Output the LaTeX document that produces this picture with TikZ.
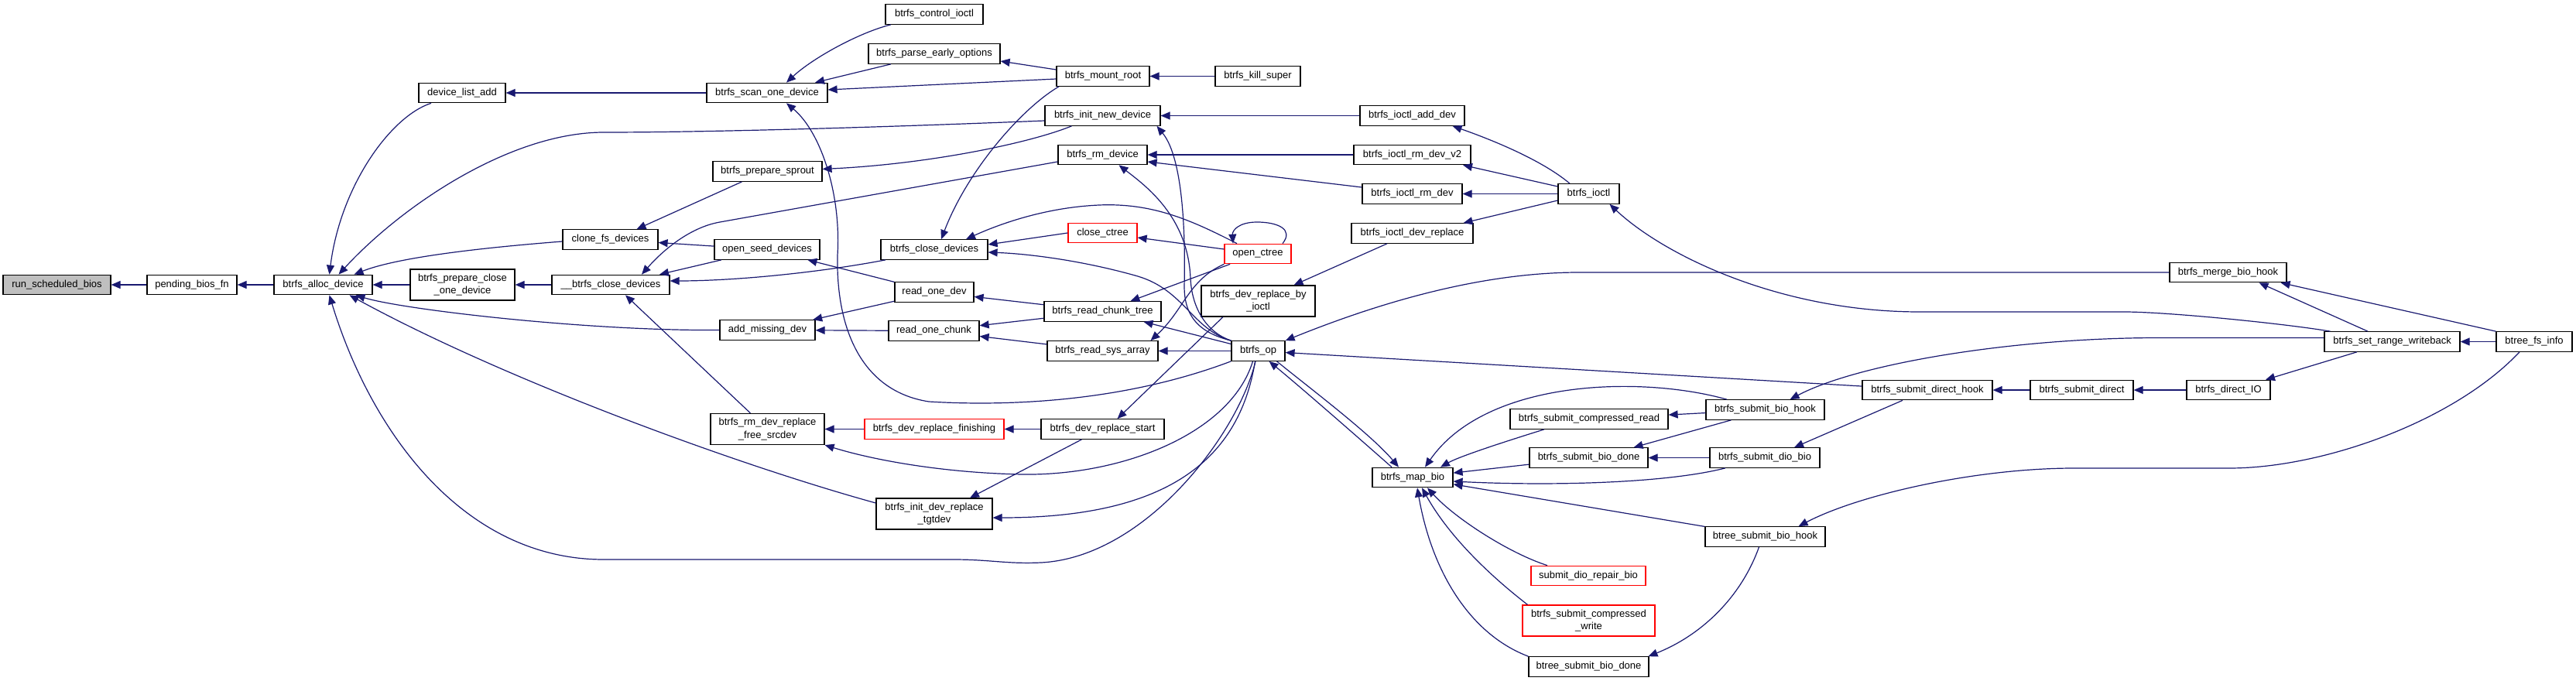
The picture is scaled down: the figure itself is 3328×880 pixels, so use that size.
\documentclass[tikz,border=0pt]{standalone}
\usepackage{fontspec}
\setmainfont{Liberation Sans}
\usetikzlibrary{arrows.meta}
\definecolor{edgec}{HTML}{191970}
\definecolor{grayfill}{HTML}{BFBFBF}
\begin{document}
\begin{tikzpicture}[x=1pt,y=-1pt,
  box/.style={draw=black, line width=1.2pt, fill=white, minimum height=25.5pt, inner sep=0pt, font=\fontsize{13}{16.5}\selectfont, align=center},
  redbox/.style={box, draw=red},
  tall/.style={minimum height=40pt},
  cedge/.style={draw=edgec, line width=1.2pt, -{Triangle[length=12pt,width=10pt]}},
  ]
\useasboundingbox (0,0) rectangle (3328,880);
% nodes
\node[box, fill=grayfill, minimum width=139pt] (rsb) at (73.5,368) {run\_scheduled\_bios};
\node[box, minimum width=116pt] (pbf) at (248,368) {pending\_bios\_fn};
\node[box, minimum width=127pt] (alloc) at (417.5,368) {btrfs\_alloc\_device};
\node[box, tall, minimum width=135pt] (prepclose) at (597.5,368) {btrfs\_prepare\_close\\\_one\_device};
\node[box, minimum width=152pt] (uclose) at (789,368) {\_\_btrfs\_close\_devices};
\node[box, minimum width=123pt] (clone) at (788.5,309.5) {clone\_fs\_devices};
\node[box, minimum width=112pt] (dla) at (597,120) {device\_list\_add};
\node[box, minimum width=126pt] (ctlioctl) at (1207,18.5) {btrfs\_control\_ioctl};
\node[box, minimum width=170pt] (parse) at (1207,69.5) {btrfs\_parse\_early\_options};
\node[box, minimum width=156pt] (scan) at (991,120) {btrfs\_scan\_one\_device};
\node[box, minimum width=120pt] (mount) at (1425,98.5) {btrfs\_mount\_root};
\node[box, minimum width=110pt] (kill) at (1625,98.5) {btrfs\_kill\_super};
\node[box, minimum width=149pt] (initnew) at (1424.5,149.5) {btrfs\_init\_new\_device};
\node[box, minimum width=115pt] (rmdev) at (1424.5,200) {btrfs\_rm\_device};
\node[box, minimum width=141pt] (sprout) at (991.5,221.5) {btrfs\_prepare\_sprout};
\node[box, minimum width=136pt] (openseed) at (991,322.5) {open\_seed\_devices};
\node[box, minimum width=138pt] (closedev) at (1207,322.5) {btrfs\_close\_devices};
\node[redbox, minimum width=89pt] (closectree) at (1424.5,301) {close\_ctree};
\node[redbox, minimum width=86pt] (openctree) at (1625,328) {open\_ctree};
\node[box, minimum width=102pt] (readdev) at (1207,377.5) {read\_one\_dev};
\node[box, minimum width=151pt] (chunktree) at (1424.5,402.5) {btrfs\_read\_chunk\_tree};
\node[box, tall, minimum width=147pt] (byioctl) at (1625.5,389) {btrfs\_dev\_replace\_by\\\_ioctl};
\node[box, minimum width=123pt] (addmiss) at (991.5,426.5) {add\_missing\_dev};
\node[box, minimum width=117pt] (readchunk) at (1206.5,427.5) {read\_one\_chunk};
\node[box, minimum width=143pt] (sysarray) at (1424.5,453.5) {btrfs\_read\_sys\_array};
\node[box, minimum width=69pt] (op) at (1625.5,453.5) {btrfs\_op};
\node[box, tall, minimum width=147pt] (rmreplace) at (991.5,554.5) {btrfs\_rm\_dev\_replace\\\_free\_srcdev};
\node[redbox, minimum width=180pt] (finishing) at (1207,554.5) {btrfs\_dev\_replace\_finishing};
\node[box, minimum width=159pt] (rstart) at (1424.5,554.5) {btrfs\_dev\_replace\_start};
\node[box, tall, minimum width=150pt] (tgtdev) at (1207,664) {btrfs\_init\_dev\_replace\\\_tgtdev};
\node[box, minimum width=135pt] (addioctl) at (1824.5,149.5) {btrfs\_ioctl\_add\_dev};
\node[box, minimum width=151pt] (rmv2) at (1824.5,200) {btrfs\_ioctl\_rm\_dev\_v2};
\node[box, minimum width=129pt] (rmioctl) at (1824.5,250.5) {btrfs\_ioctl\_rm\_dev};
\node[box, minimum width=79pt] (ioctl) at (2052.5,250.5) {btrfs\_ioctl};
\node[box, minimum width=157pt] (replioctl) at (1824.5,301.5) {btrfs\_ioctl\_dev\_replace};
\node[box, minimum width=104pt] (mapbio) at (1825,617) {btrfs\_map\_bio};
\node[box, minimum width=204pt] (compread) at (2053,541.5) {btrfs\_submit\_compressed\_read};
\node[box, minimum width=153pt] (biohook) at (2280.5,529.5) {btrfs\_submit\_bio\_hook};
\node[box, minimum width=153pt] (biodone) at (2052.5,591.5) {btrfs\_submit\_bio\_done};
\node[box, minimum width=142pt] (diobio) at (2280,591.5) {btrfs\_submit\_dio\_bio};
\node[box, minimum width=168pt] (directhook) at (2490,504) {btrfs\_submit\_direct\_hook};
\node[box, minimum width=155pt] (btreehook) at (2280.5,693.5) {btree\_submit\_bio\_hook};
\node[redbox, minimum width=148pt] (repair) at (2052,744) {submit\_dio\_repair\_bio};
\node[redbox, tall, minimum width=171pt] (compwrite) at (2052.5,802) {btrfs\_submit\_compressed\\\_write};
\node[box, minimum width=155pt] (btreedone) at (2052.5,861.5) {btree\_submit\_bio\_done};
\node[box, minimum width=151pt] (merge) at (2878.5,352) {btrfs\_merge\_bio\_hook};
\node[box, minimum width=175pt] (setrange) at (3090.5,441.5) {btrfs\_set\_range\_writeback};
\node[box, minimum width=98pt] (fsinfo) at (3274,441.5) {btree\_fs\_info};
\node[box, minimum width=133pt] (subdirect) at (2689.5,504) {btrfs\_submit\_direct};
\node[box, minimum width=108pt] (directio) at (2879,504) {btrfs\_direct\_IO};
% edges
\draw[cedge] (pbf) -- (rsb);
\draw[cedge] (alloc) -- (pbf);
\draw[cedge] ([xshift=-40pt]dla.south) .. controls (505,150) and (440,240) .. ([xshift=8pt]alloc.north);
\draw[cedge] ([yshift=-6.5pt]initnew.west) .. controls (1100,166) and (900,171) .. (780,171) .. controls (660,171) and (520,265) .. ([xshift=20pt]alloc.north);
\draw[cedge] ([yshift=-2.5pt]clone.west) .. controls (650,318) and (520,330) .. ([xshift=40pt]alloc.north);
\draw[cedge] (prepclose) -- (alloc);
\draw[cedge] (uclose) -- (prepclose);
\draw[cedge] (addmiss.west) .. controls (760,428) and (520,400) .. ([xshift=42pt]alloc.south);
\draw[cedge] ([yshift=14pt]tgtdev.west) .. controls (950,600) and (650,490) .. ([xshift=34pt]alloc.south);
\draw[cedge] ([xshift=-3.5pt]op.south) .. controls (1600,560) and (1480,720) .. (1345,727) .. controls (1300,729) and (1280,723) .. (1231,723) -- (780,723) .. controls (600,723) and (480,560) .. ([xshift=8pt]alloc.south);
\draw[cedge] (scan) -- (dla);
\draw[cedge] ([xshift=-56pt]ctlioctl.south) .. controls (1110,42) and (1050,75) .. ([xshift=25pt]scan.north);
\draw[cedge] ([xshift=-56pt]parse.south) -- ([xshift=62pt]scan.north);
\draw[cedge] ([yshift=-3.5pt]mount.west) -- ([yshift=4pt]scan.east);
\draw[cedge] ([yshift=8.5pt]mount.west) -- ([yshift=-9.5pt]parse.east);
\draw[cedge] (kill) -- (mount);
\draw[cedge] ([xshift=-57pt]mount.south) .. controls (1320,140) and (1250,220) .. ([xshift=9pt]closedev.north);
\draw[cedge] (op.south west) .. controls (1450,520) and (1300,525) .. (1200,519) .. controls (1110,505) and (1080,420) .. (1082,330) .. controls (1087,250) and (1060,170) .. ([xshift=25pt]scan.south);
\draw[cedge] (addioctl) -- (initnew);
\draw[cedge] (op.north west) .. controls (1550,430) and (1530,410) .. (1530,370) .. controls (1532,280) and (1525,200) .. ([xshift=70pt]initnew.south);
\draw[cedge] (rmv2) -- (rmdev);
\draw[cedge] ([yshift=8.5pt]rmioctl.west) -- ([yshift=-9pt]rmdev.east);
\draw[cedge] (op.north west) .. controls (1560,430) and (1540,400) .. (1538,360) .. controls (1535,280) and (1480,240) .. ([xshift=21pt]rmdev.south);
\draw[cedge] ([xshift=-24.5pt]ioctl.north) .. controls (1990,205) and (1920,178) .. ([xshift=52pt]addioctl.south);
\draw[cedge] ([yshift=9.5pt]ioctl.west) -- ([xshift=65.5pt]rmv2.south);
\draw[cedge] (ioctl) -- (rmioctl);
\draw[cedge] ([yshift=-8.5pt]ioctl.west) -- ([xshift=66pt]replioctl.north);
\draw[cedge] (closectree.west) -- ([yshift=6.5pt]closedev.east);
\draw[cedge] ([xshift=-27pt]openctree.north) .. controls (1540,285) and (1490,262) .. (1420,265) .. controls (1350,268) and (1290,290) .. ([xshift=41pt]closedev.north);
\draw[cedge] (op.north west) .. controls (1540,425) and (1530,375) .. (1470,357) .. controls (1400,337) and (1330,328) .. ([yshift=-3.5pt]closedev.east);
\draw[cedge] ([yshift=6pt]openctree.west) -- ([yshift=-6pt]closectree.east);
\draw[cedge] ([xshift=32pt]openctree.north) .. controls (1672,296) and (1650,287) .. (1624,287) .. controls (1600,287) and (1592,298) .. ([xshift=-32pt]openctree.north);
\draw[cedge] (chunktree) -- (readdev);
\draw[cedge] (chunktree) -- (readchunk);
\draw[cedge] (openctree) -- (chunktree);
\draw[cedge] (openctree.south west) .. controls (1535,362) and (1530,400) .. ([xshift=62pt]sysarray.north);
\draw[cedge] ([yshift=9pt]op.west) -- ([xshift=53pt]chunktree.south);
\draw[cedge] (op) -- (sysarray);
\draw[cedge] (sysarray) -- (readchunk);
\draw[cedge] (readdev) -- (openseed);
\draw[cedge] (readdev) -- (addmiss);
\draw[cedge] (readchunk) -- (addmiss);
\draw[cedge] ([xshift=-45.5pt]byioctl.south) -- ([xshift=19pt]rstart.north);
\draw[cedge] ([xshift=-32.5pt]replioctl.south) -- ([xshift=46pt]byioctl.north);
\draw[cedge] (merge.west) -- (2040,352) .. controls (1900,352) and (1760,400) .. (op.north east);
\draw[cedge] (directhook) -- (op);
\draw[cedge] ([yshift=5pt]setrange.west) -- (2790,436.5) .. controls (2600,436.5) and (2400,470) .. ([xshift=32pt]biohook.north);
\draw[cedge] ([xshift=-80pt]setrange.north) .. controls (2950,418) and (2800,403) .. (2744,403) -- (2480,403) .. controls (2300,403) and (2150,330) .. ([xshift=27pt]ioctl.south);
\draw[cedge] ([xshift=-31.5pt]setrange.north) -- ([xshift=40pt]merge.south);
\draw[cedge] (fsinfo.north west) -- ([xshift=68pt]merge.south);
\draw[cedge] (fsinfo) -- (setrange);
\draw[cedge] ([xshift=-45.5pt]setrange.south) -- ([xshift=48pt]directio.north);
\draw[cedge] (directio) -- (subdirect);
\draw[cedge] (subdirect) -- (directhook);
\draw[cedge] ([xshift=-32pt]directhook.south) -- ([xshift=38pt]diobio.north);
\draw[cedge] ([xshift=-19pt]fsinfo.south) .. controls (3170,545) and (3000,605) .. (2880,605) -- (2680,605) .. controls (2550,605) and (2400,640) .. ([xshift=43pt]btreehook.north);
\draw[cedge] (biohook) -- (compread);
\draw[cedge] ([xshift=-44pt]biohook.south) -- ([xshift=58pt]biodone.north);
\draw[cedge] ([xshift=-49.5pt]biohook.north) .. controls (2120,485) and (1920,490) .. ([xshift=16pt]mapbio.north);
\draw[cedge] ([xshift=-58pt]compread.south) .. controls (1940,572) and (1885,590) .. ([xshift=36pt]mapbio.north);
\draw[cedge] (biodone) -- (mapbio);
\draw[cedge] (diobio) -- (biodone);
\draw[cedge] ([xshift=-51pt]diobio.south) .. controls (2150,625) and (2000,628) .. ([yshift=-5pt]mapbio.east);
\draw[cedge] (btreehook) -- (mapbio);
\draw[cedge] ([xshift=-53pt]repair.north) .. controls (1950,715) and (1880,670) .. ([xshift=19pt]mapbio.south);
\draw[cedge] ([xshift=-79pt]compwrite.north) .. controls (1920,740) and (1870,690) .. ([xshift=12pt]mapbio.south);
\draw[cedge] ([xshift=-78pt]btreedone.north) .. controls (1900,820) and (1850,740) .. ([xshift=6pt]mapbio.south);
\draw[cedge] ([xshift=-8pt]btreehook.south) .. controls (2250,770) and (2200,820) .. ([xshift=77pt]btreedone.north);
\draw[cedge] ([xshift=24pt]op.south) .. controls (1690,500) and (1770,560) .. ([xshift=-18pt]mapbio.north);
\draw[cedge] ([xshift=-27pt]mapbio.north) .. controls (1760,570) and (1680,500) .. ([xshift=14pt]op.south);
\draw[cedge] ([xshift=-7pt]op.south) .. controls (1590,560) and (1450,615) .. (1320,613) .. controls (1220,611) and (1130,595) .. (rmreplace.south east);
\draw[cedge] ([xshift=-4pt]op.south) .. controls (1600,600) and (1500,669) .. ([yshift=-5pt]tgtdev.east);
\draw[cedge] ([xshift=-27pt]rstart.south) -- ([xshift=46pt]tgtdev.north);
\draw[cedge] (rstart) -- (finishing);
\draw[cedge] (finishing) -- (rmreplace);
\draw[cedge] ([xshift=-22pt]rmreplace.north) -- ([xshift=19pt]uclose.south);
\draw[cedge] ([yshift=-9pt]rmdev.west) -- (930,287) .. controls (890,294) and (855,325) .. ([xshift=40pt]uclose.north);
\draw[cedge] ([xshift=-59pt]openseed.south) -- ([xshift=63pt]uclose.north);
\draw[cedge] ([xshift=-63pt]closedev.south) .. controls (1060,352) and (950,363) .. ([yshift=5pt]uclose.east);
\draw[cedge] ([xshift=-33pt]sprout.south) -- ([xshift=34pt]clone.north);
\draw[cedge] (openseed) -- (clone);
\draw[cedge] ([xshift=-40pt]initnew.south) .. controls (1330,185) and (1200,212) .. ([yshift=3pt]sprout.east);
\end{tikzpicture}
\end{document}
